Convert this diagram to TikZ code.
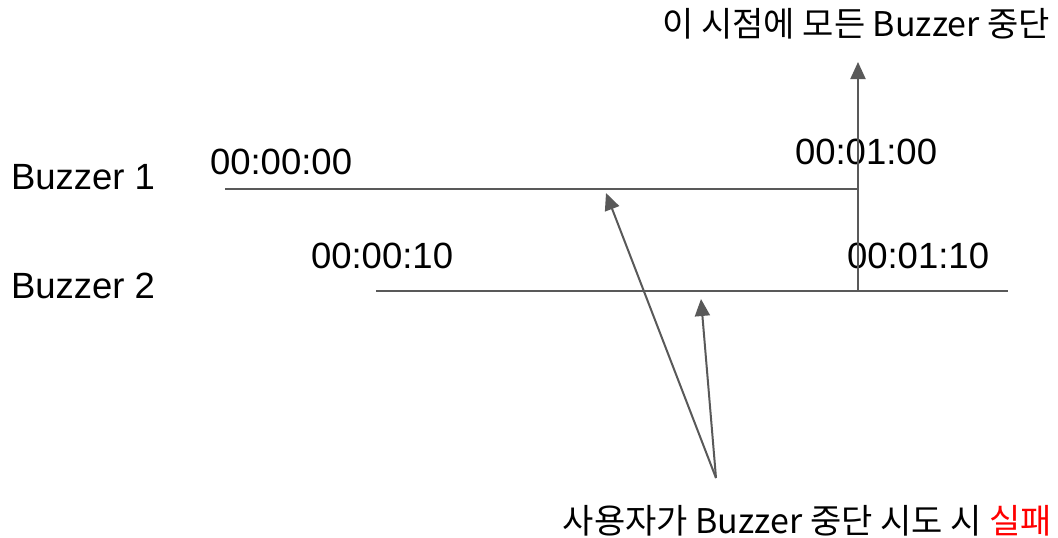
\documentclass[tikz,border=0pt]{standalone}
\usepackage{fontspec}
\setmainfont{Liberation Sans}
\newfontfamily\krfont{Noto Sans CJK KR}
\usepackage{xcolor}
\usetikzlibrary{arrows.meta}

\definecolor{lncol}{HTML}{595959}
\definecolor{failred}{HTML}{FF0000}

\begin{document}
\begin{tikzpicture}[x=1pt,y=-1pt,
  every node/.style={inner sep=0pt,outer sep=0pt},
  lbl/.style ={font=\fontsize{36.5}{42}\selectfont,anchor=base west},
  klbl/.style={font=\krfont\fontsize{34}{40}\selectfont,anchor=base east},
  tline/.style={line width=2pt,lncol},
  arr/.style ={line width=2pt,lncol,-{Triangle[length=17pt,width=15pt]}},
]
\useasboundingbox (0,0) rectangle (1058,538);

% buzzer labels and timestamps
\node[lbl] at (11,189)  (bz1)  {Buzzer 1};
\node[lbl] at (11,298)  (bz2)  {Buzzer 2};
\node[lbl] at (210,174) (t100) {00:00:00};
\node[lbl] at (795,164) (t160) {00:01:00};
\node[lbl] at (311,268) (t210) {00:00:10};
\node[lbl] at (847,268) (t270) {00:01:10};

\node[klbl] at (1050,36)  (stopall) {이 시점에 모든 Buzzer 중단};
\node[klbl] at (1052,533) (tryfail) {사용자가 Buzzer 중단 시도 시 \textcolor{failred}{실패}};

% timelines
\coordinate (b1s) at (225,189);
\coordinate (b1e) at (858,189);
\coordinate (b2s) at (376,291);
\coordinate (b2e) at (1008,291);
\draw[tline] (b1s) -- (b1e);
\draw[tline] (b2s) -- (b2e);

% stop point
\coordinate (stoptop) at (858,62);
\draw[arr] (858,291) -- (stoptop);

% failed attempts
\coordinate (fan)  at (716,478);
\coordinate (hit1) at (606,193);
\coordinate (hit2) at (701,299);
\draw[arr] (fan) -- (hit1);
\draw[arr] (fan) -- (hit2);
\end{tikzpicture}
\end{document}
